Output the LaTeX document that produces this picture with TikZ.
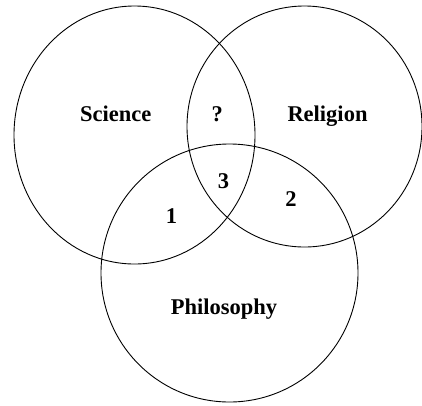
\documentclass[tikz,border=0pt]{standalone}
\usepackage{fontspec}
\setmainfont{Liberation Serif}
\begin{document}
\begin{tikzpicture}[x=1pt,y=-1pt,
  ring/.style={draw=black,line width=0.9pt},
  lbl/.style={font=\bfseries\fontsize{22.5}{26}\selectfont,inner sep=0pt,anchor=base}]
\useasboundingbox (0,0) rectangle (422,405);
\draw[ring] (134.5,135) ellipse[x radius=120.5,y radius=129];
\draw[ring] (304.5,126.5) ellipse[x radius=117.5,y radius=120.5];
\draw[ring] (229.5,273) ellipse[x radius=128.5,y radius=129];
\node[lbl] (science) at (115.7,121) {Science};
\node[lbl] (q) at (217.3,121) {?};
\node[lbl] (religion) at (327.5,121) {Religion};
\node[lbl] (three) at (223.5,188) {3};
\node[lbl] (two) at (291,206) {2};
\node[lbl] (one) at (171.5,223) {1};
\node[lbl] (philosophy) at (224,314) {Philosophy};
\end{tikzpicture}
\end{document}
